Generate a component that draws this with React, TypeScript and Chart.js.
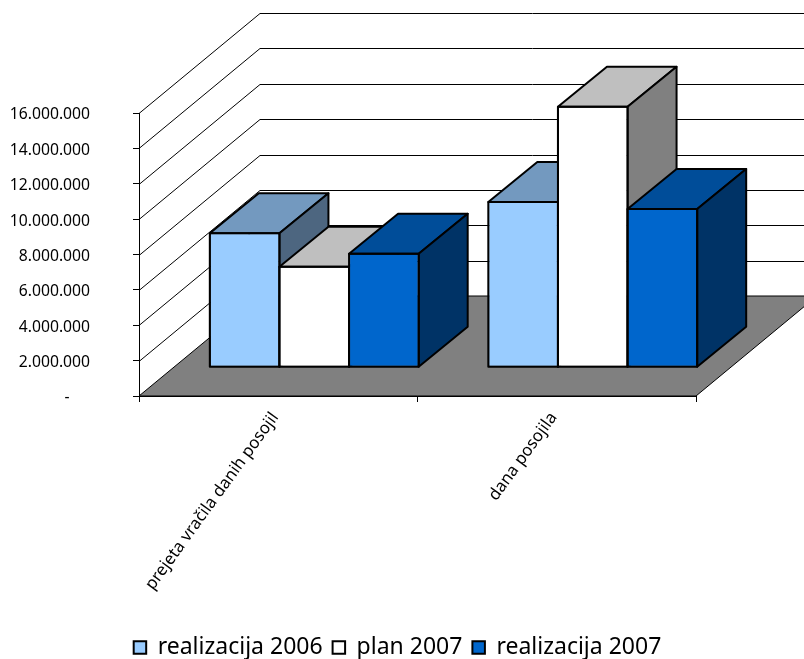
import { useEffect, useRef } from "react";
import { Chart, registerables } from "chart.js";

Chart.register(...registerables);

const categories = ["prejeta vračila danih posojil", "dana posojila"];
const realizacija2006 = [7580000, 9350000];
const plan2007 = [5680000, 14730000];
const realizacija2007 = [6420000, 8950000];

const FONT = "'Noto Sans', sans-serif";
const WALL_DX = 121;
const WALL_DY = -100;
const BAR_SHIFT_X = 36;
const BAR_SHIFT_Y = -28.7;
const BAR_DX = 49;
const BAR_DY = -40;
const shades: Record<string, [string, string]> = {
  "#99CCFF": ["#7399BF", "#4D6680"],
  "#FFFFFF": ["#BFBFBF", "#808080"],
  "#0066CC": ["#004D99", "#003366"],
};

const poly = (ctx: CanvasRenderingContext2D, pts: number[][], fill: string | null, lw: number) => {
  ctx.beginPath();
  pts.forEach(([x, y], i) => (i ? ctx.lineTo(x, y) : ctx.moveTo(x, y)));
  ctx.closePath();
  if (fill) {
    ctx.fillStyle = fill;
    ctx.fill();
  }
  ctx.lineWidth = lw;
  ctx.strokeStyle = "#000";
  ctx.lineJoin = "round";
  ctx.stroke();
};

const threeD = {
  id: "threeD",
  afterLayout(chart: any) {
    const legend = chart.legend;
    legend.top = 626;
    legend.bottom = 668;
    const shift = 397.5 - (legend.left + legend.right) / 2;
    legend.left += shift;
    legend.right += shift;
  },
  beforeDatasetsDraw(chart: any) {
    const { ctx, chartArea: a, scales } = chart;
    ctx.save();
    poly(
      ctx,
      [
        [a.left, a.bottom],
        [a.right, a.bottom],
        [a.right + WALL_DX, a.bottom + WALL_DY],
        [a.left + WALL_DX, a.bottom + WALL_DY],
      ],
      "#808080",
      1
    );
    ctx.lineWidth = 1;
    ctx.strokeStyle = "#000";
    scales.y.ticks.forEach((t: any) => {
      if (t.value === 0) return;
      const y = Math.round(scales.y.getPixelForValue(t.value)) + 0.5;
      ctx.beginPath();
      ctx.moveTo(a.left, y);
      ctx.lineTo(a.left + WALL_DX, y + WALL_DY);
      ctx.lineTo(a.right + WALL_DX, y + WALL_DY);
      ctx.stroke();
    });
    ctx.restore();
  },
  beforeDatasetDraw() {
    return false;
  },
  afterDatasetsDraw(chart: any) {
    const { ctx } = chart;
    chart.data.datasets.forEach((ds: any, index: number) => {
      const meta = chart.getDatasetMeta(index);
      const [topFill, sideFill] = shades[ds.backgroundColor];
      ctx.save();
      ctx.translate(BAR_SHIFT_X, BAR_SHIFT_Y);
      meta.data.forEach((el: any) => {
        const l = el.x - el.width / 2;
        const r = el.x + el.width / 2;
        const t = el.y;
        const b = el.base;
        poly(ctx, [[l, t], [r, t], [r + BAR_DX, t + BAR_DY], [l + BAR_DX, t + BAR_DY]], topFill, 2);
        poly(ctx, [[r, t], [r, b], [r + BAR_DX, b + BAR_DY], [r + BAR_DX, t + BAR_DY]], sideFill, 2);
      });
      meta.controller.draw();
      meta.data.forEach((el: any) => {
        const l = el.x - el.width / 2;
        const r = el.x + el.width / 2;
        poly(ctx, [[l, el.y], [r, el.y], [r, el.base], [l, el.base]], null, 2);
      });
      ctx.restore();
    });
  },
};

export default function App() {
  const ref = useRef<HTMLCanvasElement>(null);
  useEffect(() => {
    document.body.style.margin = "0";
    document.body.style.background = "#fff";
    const border = { borderColor: "#000", borderWidth: 1, borderSkipped: false };
    const chart = new Chart(ref.current as HTMLCanvasElement, {
      type: "bar",
      data: {
        labels: categories,
        datasets: [
          { label: "realizacija 2006", data: realizacija2006, backgroundColor: "#99CCFF", ...border },
          { label: "plan 2007", data: plan2007, backgroundColor: "#FFFFFF", ...border },
          { label: "realizacija 2007", data: realizacija2007, backgroundColor: "#0066CC", ...border },
        ] as any,
      },
      plugins: [threeD],
      options: {
        responsive: false,
        animation: false,
        devicePixelRatio: 1,
        events: [],
        layout: { padding: { left: 0, top: 113, right: 108, bottom: 0 } },
        datasets: { bar: { categoryPercentage: 0.75, barPercentage: 1 } },
        plugins: {
          tooltip: { enabled: false },
          legend: {
            position: "bottom",
            labels: {
              boxWidth: 12.5,
              boxHeight: 12.5,
              padding: 10,
              color: "#000",
              font: { family: FONT, size: 23 },
              generateLabels: (c: any) =>
                Chart.defaults.plugins.legend.labels
                  .generateLabels(c)
                  .map((item: any) => ({ ...item, lineWidth: 2 })),
            },
          },
        },
        scales: {
          x: {
            afterFit(s: any) {
              s.height = 220;
            },
            border: { color: "#000" },
            grid: { drawOnChartArea: false, color: "#000", tickLength: 6 },
            ticks: {
              color: "#000",
              autoSkip: false,
              minRotation: 54,
              maxRotation: 54,
              padding: 6.5,
              labelOffset: -3,
              font: { family: FONT, size: 16.7 },
            },
          },
          y: {
            min: 0,
            max: 16000000,
            afterFit(s: any) {
              s.width = 139;
            },
            border: { color: "#000" },
            grid: { drawOnChartArea: false, color: "#000", tickLength: 6 },
            ticks: {
              stepSize: 2000000,
              color: "#000",
              padding: 43,
              labelOffset: 2,
              font: { family: FONT, size: 15.7 },
              callback: (v: any) =>
                v === 0
                  ? "-\u00A0\u00A0\u00A0\u00A0\u00A0"
                  : String(v).replace(/\B(?=(\d{3})+(?!\d))/g, "."),
            },
          },
        },
      } as any,
    });
    return () => chart.destroy();
  }, []);
  return <canvas ref={ref} width={804} height={659} style={{ display: "block" }} />;
}
